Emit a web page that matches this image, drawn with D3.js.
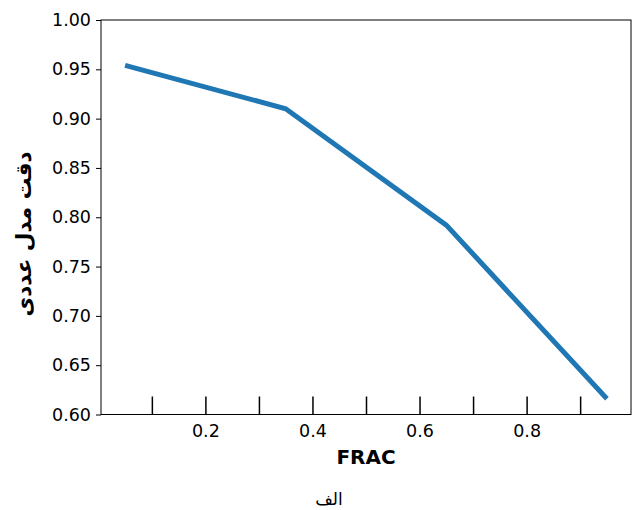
<!DOCTYPE html>
<html>
<head>
<meta charset="utf-8">
<script src="https://cdn.jsdelivr.net/npm/d3@7"></script>
<style>
  body { margin: 0; background: #fff; }
  text { font-family: "DejaVu Sans", sans-serif; }
</style>
</head>
<body>
<div id="chart"></div>
<script>
const fracs = [0.05, 0.35, 0.65, 0.95];
const accuracy = [0.954, 0.910, 0.792, 0.616];
const xTicks = [0.1, 0.2, 0.3, 0.4, 0.5, 0.6, 0.7, 0.8, 0.9];
const xLabels = [0.2, 0.4, 0.6, 0.8];
const yTicks = [0.60, 0.65, 0.70, 0.75, 0.80, 0.85, 0.90, 0.95, 1.00];

const width = 635, height = 510;
const margin = { top: 20, right: 4, bottom: 95.5, left: 101 };

const svg = d3.select("#chart")
  .append("svg")
  .attr("width", width)
  .attr("height", height);

const x = d3.scaleLinear()
  .domain([0.005, 0.995])
  .range([margin.left, width - margin.right]);

const y = d3.scaleLinear()
  .domain([0.6, 1.0])
  .range([height - margin.bottom, margin.top]);

// y axis
const yAxis = svg.append("g")
  .attr("transform", `translate(${margin.left},0)`)
  .call(d3.axisLeft(y).tickValues(yTicks).tickFormat(d3.format(".2f")).tickSize(5).tickPadding(5));
yAxis.select(".domain").remove();
yAxis.selectAll("text").style("font-size", "17.5px").attr("fill", "#000");
yAxis.selectAll("line").attr("stroke", "#000");

// x axis: inward ticks, labels only on even ones
const xAxis = svg.append("g")
  .attr("transform", `translate(0,${height - margin.bottom})`)
  .call(d3.axisBottom(x).tickValues(xTicks).tickSize(-18)
    .tickFormat(d => xLabels.some(v => Math.abs(v - d) < 1e-9) ? d3.format(".1f")(d) : ""));
xAxis.select(".domain").remove();
xAxis.selectAll("line").attr("stroke", "#000").attr("stroke-width", 1.5);
xAxis.selectAll("text").style("font-size", "17.5px").attr("fill", "#000").attr("y", 10);

// frame
svg.append("rect")
  .attr("x", margin.left)
  .attr("y", margin.top)
  .attr("width", width - margin.right - margin.left)
  .attr("height", height - margin.bottom - margin.top)
  .attr("fill", "none")
  .attr("stroke", "#000")
  .attr("stroke-width", 1);

// line
const data = fracs.map((f, i) => ({ f, a: accuracy[i] }));
svg.append("path")
  .datum(data)
  .attr("fill", "none")
  .attr("stroke", "#1f77b4")
  .attr("stroke-width", 5)
  .attr("d", d3.line().x(d => x(d.f)).y(d => y(d.a)));

// labels
svg.append("text")
  .attr("x", (margin.left + width - margin.right) / 2)
  .attr("y", 464)
  .attr("text-anchor", "middle")
  .style("font-size", "20px")
  .style("font-weight", "bold")
  .text("FRAC");

svg.append("text")
  .attr("transform", "translate(31,234) rotate(-90)")
  .attr("text-anchor", "middle")
  .attr("direction", "rtl")
  .style("font-size", "21.5px")
  .style("font-weight", "bold")
  .text("دقت مدل عددی");

svg.append("text")
  .attr("x", 329)
  .attr("y", 505)
  .attr("text-anchor", "middle")
  .style("font-size", "17px")
  .text("الف");
</script>
</body>
</html>
